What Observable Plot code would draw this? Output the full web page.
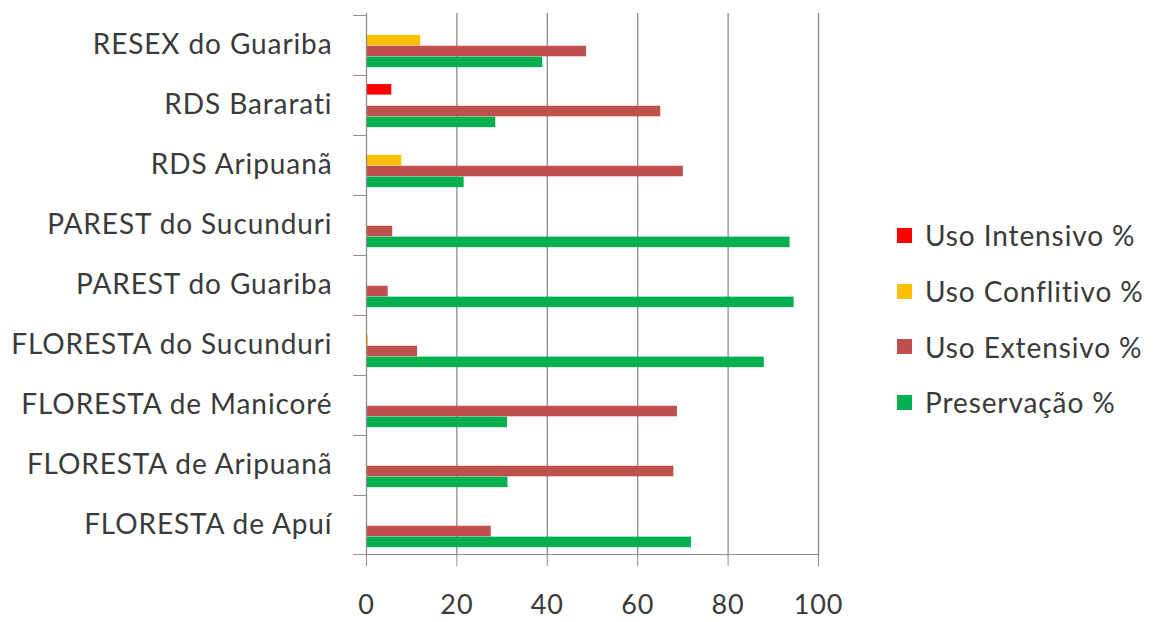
<!DOCTYPE html>
<html>
<head>
<meta charset="utf-8">
<script src="https://cdn.jsdelivr.net/npm/d3@7"></script>
<script src="https://cdn.jsdelivr.net/npm/@observablehq/plot@0.6"></script>
<style>
  body { margin: 0; background: #fff; }
  #chart { position: relative; width: 1154px; height: 622px; font-family: Lato, "Open Sans", sans-serif; }
  #chart svg text { letter-spacing: 0.9px; }
  #legend { position: absolute; left: 897px; top: 207.5px; }
  .item { display: flex; align-items: center; height: 55.7px; font-size: 28px; letter-spacing: 0.9px; color: #3a3a3a; white-space: nowrap; }
  .sw { width: 15px; height: 15px; margin-right: 13px; flex: none; }
</style>
</head>
<body>
<div id="chart"><div id="legend"></div></div>
<script>
// Protected areas, listed top to bottom
const categories = [
  "RESEX do Guariba",
  "RDS Bararati",
  "RDS Aripuanã",
  "PAREST do Sucunduri",
  "PAREST do Guariba",
  "FLORESTA do Sucunduri",
  "FLORESTA de Manicoré",
  "FLORESTA de Aripuanã",
  "FLORESTA de Apuí"
];

// Land-use classes (drawn in this order inside each group)
const series = ["Uso Intensivo %", "Uso Conflitivo %", "Uso Extensivo %", "Preservação %"];
const colors = ["#ff0000", "#ffc000", "#c0504d", "#00b050"];

// Percentages per area, same order as categories
const usoIntensivo  = [0, 5.6, 0, 0, 0, 0, 0, 0, 0];
const usoConflitivo = [12.0, 0, 7.8, 0, 0, 0.4, 0, 0, 0];
const usoExtensivo  = [48.7, 65.1, 70.1, 5.8, 4.8, 11.3, 68.8, 68.0, 27.6];
const preservacao   = [39.0, 28.6, 21.6, 93.7, 94.6, 88.0, 31.2, 31.3, 71.9];

const xTicks = [0, 20, 40, 60, 80, 100];

const values = [usoIntensivo, usoConflitivo, usoExtensivo, preservacao];
const rows = series.flatMap((s, i) =>
  categories.map((c, j) => ({category: c, series: s, value: values[i][j]}))
);

const width = 1154, height = 622;
const margin = {top: 13, right: 336, bottom: 66, left: 366};
const bw = (height - margin.top - margin.bottom) / categories.length;
const pad = bw * 0.15;   // space above the first bar of a group
const slot = bw * 0.18;  // thickness of each bar
const axisGray = "#8c8c8c";

const plot = Plot.plot({
  width, height,
  marginTop: margin.top,
  marginRight: margin.right,
  marginBottom: margin.bottom,
  marginLeft: margin.left,
  style: {fontFamily: "Lato, 'Open Sans', sans-serif", color: "#3a3a3a", background: "white"},
  x: {domain: [0, 100]},
  y: {domain: categories, padding: 0},
  marks: [
    Plot.gridX({ticks: xTicks.slice(1), stroke: axisGray, strokeOpacity: 1, strokeWidth: 1.3}),
    ...series.map((s, i) =>
      Plot.barX(rows.filter(r => r.series === s), {
        x: "value",
        y: "category",
        fill: colors[i],
        insetTop: pad + i * slot,
        insetBottom: bw - pad - (i + 1) * slot
      })
    ),
    // category separator ticks on the left of the vertical axis
    Plot.barX(categories, {y: d => d, x1: -2.8, x2: 0, fill: axisGray, insetBottom: bw - 1.3}),
    // baseline of the horizontal axis
    Plot.barX(categories.slice(-1), {y: d => d, x1: -2.8, x2: 100, fill: axisGray, insetTop: bw - 1.3}),
    Plot.ruleX([0], {stroke: axisGray, strokeWidth: 1.3}),
    Plot.axisY({tickSize: 0, tickPadding: 34, fontSize: 28, label: null}),
    Plot.axisX({ticks: xTicks, tickSize: 10, tickPadding: 28, fontSize: 27, stroke: axisGray, label: null, tickFormat: d => String(d)})
  ]
});

const chart = document.getElementById("chart");
chart.insertBefore(plot, chart.firstChild);

// Legend on the right
const legend = d3.select("#legend");
series.forEach((s, i) => {
  const item = legend.append("div").attr("class", "item");
  item.append("span").attr("class", "sw").style("background", colors[i]);
  item.append("span").text(s);
});
</script>
</body>
</html>
